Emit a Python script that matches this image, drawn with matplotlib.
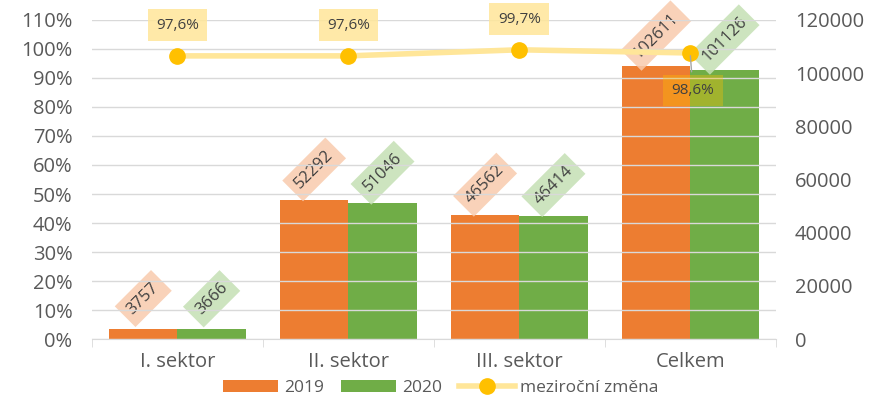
import numpy as np
import matplotlib.pyplot as plt
from matplotlib.ticker import FuncFormatter

plt.rcParams['font.family'] = ['Open Sans', 'DejaVu Sans']

categories = ['I. sektor', 'II. sektor', 'III. sektor', 'Celkem']
v2019 = [3757, 52292, 46562, 102611]
v2020 = [3666, 51046, 46414, 101126]
change = [0.976, 0.976, 0.997, 0.986]
change_labels = ['97,6%', '97,6%', '99,7%', '98,6%']

c19 = '#ED7D31'
c20 = '#70AD47'
txt = '#404040'

fig = plt.figure(figsize=(8.81, 3.98), dpi=100)
ax = fig.add_axes([0.1044, 0.148, 0.776, 0.802])
ax2 = ax.twinx()
ax.set_zorder(ax2.get_zorder() + 1)
ax.patch.set_visible(False)

x = np.arange(len(categories))
w = 0.4
b1 = ax2.bar(x - w / 2, v2019, w, color=c19, label='2019')
b2 = ax2.bar(x + w / 2, v2020, w, color=c20, label='2020')
ax2.set_ylim(0, 120000)
ax2.set_yticks(range(0, 120001, 20000))

for bars, vals, fc in [(b1, v2019, '#F8CBAD'), (b2, v2020, '#C5E0B4')]:
    for b, v in zip(bars, vals):
        ax2.annotate(str(v), (b.get_x() + b.get_width() / 2, v), xytext=(0, 22),
                     textcoords='offset points', ha='center', va='center',
                     rotation=45, fontsize=12, color=txt, zorder=5,
                     bbox=dict(boxstyle='square,pad=0.4', fc=fc, ec='none', alpha=0.85))

ax.plot(x, change, color='#FFE699', lw=4, marker='o', ms=11,
        mfc='#FFC000', mec='#FFC000', label='meziroční změna', zorder=4)
ax.set_ylim(0, 1.1)
ax.set_yticks(np.arange(0, 1.101, 0.1))
ax.yaxis.set_major_formatter(FuncFormatter(lambda v, p: f'{v * 100:.0f}%'))
ax.grid(axis='y', color='#D9D9D9', lw=1)
ax.set_axisbelow(True)

for i, (v, s) in enumerate(zip(change, change_labels)):
    if i < 3:
        ax.annotate(s, (i, v), xytext=(0, 22), textcoords='offset points',
                    ha='center', va='center', fontsize=11, color=txt, zorder=6,
                    bbox=dict(boxstyle='square,pad=0.55', fc='#FFE699', ec='none', alpha=0.85))
    else:
        ax.annotate(s, (i, v), xytext=(2, -27), textcoords='offset points',
                    ha='center', va='center', fontsize=11, color=txt, zorder=6,
                    bbox=dict(boxstyle='square,pad=0.55', fc='#FFC000', ec='none', alpha=0.35),
                    arrowprops=dict(arrowstyle='-', color='#A6A6A6', lw=1))

ax.set_xlim(-0.5, 3.5)
ax.set_xticks(x)
ax.set_xticklabels(categories)
for a in (ax, ax2):
    for sp in a.spines.values():
        sp.set_visible(False)
    a.tick_params(length=0, labelsize=14.5, colors='#595959')
ax.tick_params(axis='y', pad=14)
ax2.tick_params(axis='y', pad=14)
ax.spines['bottom'].set_visible(True)
ax.spines['bottom'].set_color('#D9D9D9')
ax.tick_params(axis='x', pad=9)
ax.set_xticks([-0.5, 0.5, 1.5, 2.5, 3.5], minor=True)
ax.tick_params(axis='x', which='minor', length=6, color='#D9D9D9')

h1, l1 = ax2.get_legend_handles_labels()
h2, l2 = ax.get_legend_handles_labels()
fig.legend(h1 + h2, l1 + l2, loc='lower center', bbox_to_anchor=(0.5, -0.035), ncol=3,
           frameon=False, fontsize=12.5, handlelength=3.2, columnspacing=1.0,
           handletextpad=0.3, labelcolor='#595959')

fig.savefig('out.png', dpi=100)
